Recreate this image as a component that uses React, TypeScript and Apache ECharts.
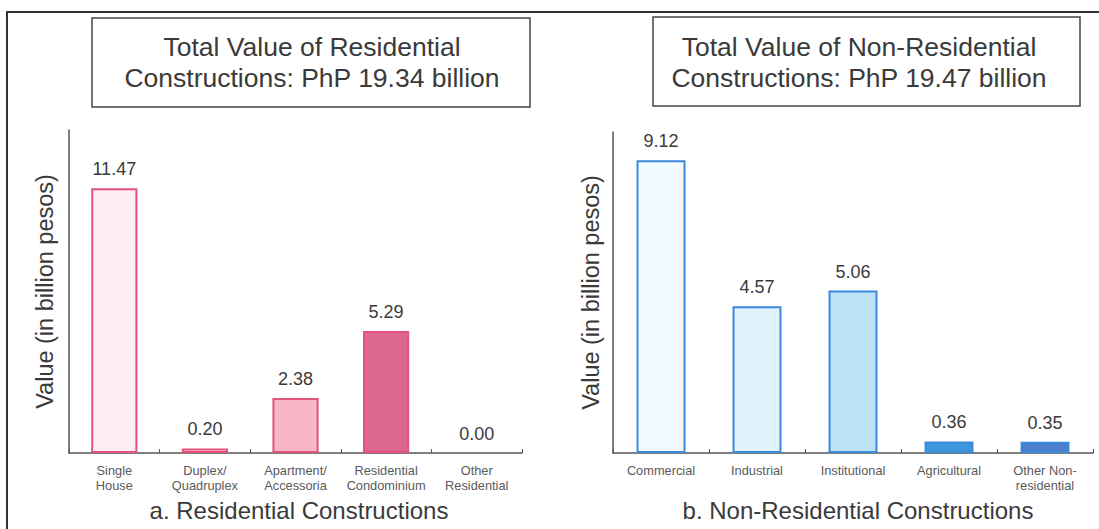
import React, { useEffect, useRef } from "react";
import * as echarts from "echarts";

const resCategories = ["Single\nHouse", "Duplex/\nQuadruplex", "Apartment/\nAccessoria", "Residential\nCondominium", "Other\nResidential"];
const resValues = [11.47, 0.2, 2.38, 5.29, 0.0];
const resFills = ["#fdeef3", "#fde8ee", "#f9b6c9", "#de6790", "#fde8ee"];
const resBorder = "#e5527a";

const nonCategories = ["Commercial", "Industrial", "Institutional", "Agricultural", "Other Non-\nresidential"];
const nonValues = [9.12, 4.57, 5.06, 0.36, 0.35];
const nonFills = ["#f3faff", "#e0f2fc", "#bde2f7", "#3d97dd", "#4a80cc"];
const nonBorder = "#3a8bd9";

const resTitle = ["Total Value of Residential", "Constructions: PhP 19.34 billion"];
const nonTitle = ["Total Value of Non-Residential", "Constructions: PhP 19.47 billion"];
const resSub = "a. Residential Constructions";
const nonSub = "b. Non-Residential Constructions";
const yName = "Value (in billion pesos)";

const FONT = "'Liberation Sans', Arial, Helvetica, sans-serif";

export default function App() {
  const ref = useRef<HTMLDivElement>(null);
  useEffect(() => {
    if (!ref.current) return;
    const chart = echarts.init(ref.current, null, { renderer: "svg" });
    const xAxisBase = (idx: number, data: string[]) => ({
      type: "category",
      gridIndex: idx,
      data,
      axisLine: { lineStyle: { color: "#555", width: 1.5 } },
      axisTick: { show: true, inside: true, length: 4, lineStyle: { color: "#555" } },
      axisLabel: {
        interval: 0,
        fontSize: 12.8,
        lineHeight: 15,
        color: "#5a5a5a",
        margin: 10,
        fontFamily: FONT,
      },
    });
    const yAxisBase = (idx: number, max: number, gap: number) => ({
      type: "value",
      gridIndex: idx,
      min: 0,
      max,
      axisLine: { show: true, lineStyle: { color: "#555", width: 1.5 } },
      axisTick: { show: false },
      axisLabel: { show: false },
      splitLine: { show: false },
      name: yName,
      nameLocation: "middle",
      nameGap: gap,
      nameRotate: 90,
      nameTextStyle: { fontSize: 23.5, color: "#3a3a3a", fontFamily: FONT },
    });
    const label = {
      show: true,
      position: "top",
      distance: 10,
      fontSize: 18,
      color: "#3a3a3a",
      fontFamily: FONT,
      formatter: (p: any) => Number(p.value).toFixed(2),
    };
    const titleText = (lines: string[], cx: number) =>
      lines.map((t, i) => ({
        type: "text",
        x: cx,
        y: 47 + i * 31,
        style: {
          text: t,
          fontSize: 26.5,
          fill: "#3a3a3a",
          fontFamily: FONT,
          align: "center",
          verticalAlign: "middle",
        },
      }));
    const barItem = (v: number, fill: string, border: string) => ({
      value: v,
      itemStyle: { color: fill, borderColor: border, borderWidth: v > 0 ? 2 : 0 },
    });
    chart.setOption({
      animation: false,
      backgroundColor: "#ffffff",
      grid: [
        { left: 69, top: 130, width: 453, height: 323 },
        { left: 613, top: 132, width: 480, height: 321 },
      ],
      xAxis: [xAxisBase(0, resCategories), xAxisBase(1, nonCategories)],
      yAxis: [yAxisBase(0, 14, 12), yAxisBase(1, 10, 10)],
      series: [
        {
          type: "bar",
          xAxisIndex: 0,
          yAxisIndex: 0,
          barWidth: "51%",
          data: resValues.map((v, i) => barItem(v, resFills[i], resBorder)),
          label,
        },
        {
          type: "bar",
          xAxisIndex: 1,
          yAxisIndex: 1,
          barWidth: "51%",
          data: nonValues.map((v, i) => barItem(v, nonFills[i], nonBorder)),
          label,
        },
      ],
      graphic: [
        {
          type: "polyline",
          shape: { points: [[7, 535], [7, 12], [1105, 12]] },
          style: { stroke: "#333", lineWidth: 2, fill: "none" },
        },
        {
          type: "rect",
          shape: { x: 92, y: 18, width: 438, height: 89 },
          style: { stroke: "#444", lineWidth: 1.5, fill: "none" },
        },
        {
          type: "rect",
          shape: { x: 653, y: 17, width: 427, height: 89 },
          style: { stroke: "#444", lineWidth: 1.5, fill: "none" },
        },
        ...titleText(resTitle, 312),
        ...titleText(nonTitle, 859),
        {
          type: "text",
          x: 299,
          y: 510,
          style: { text: resSub, fontSize: 24, fill: "#3a3a3a", fontFamily: FONT, align: "center", verticalAlign: "middle" },
        },
        {
          type: "text",
          x: 858,
          y: 510,
          style: { text: nonSub, fontSize: 24, fill: "#3a3a3a", fontFamily: FONT, align: "center", verticalAlign: "middle" },
        },
      ],
    });
    return () => chart.dispose();
  }, []);
  return (
    <div
      ref={ref}
      style={{ position: "fixed", left: 0, top: 0, width: 1099, height: 529, background: "#fff" }}
    />
  );
}
